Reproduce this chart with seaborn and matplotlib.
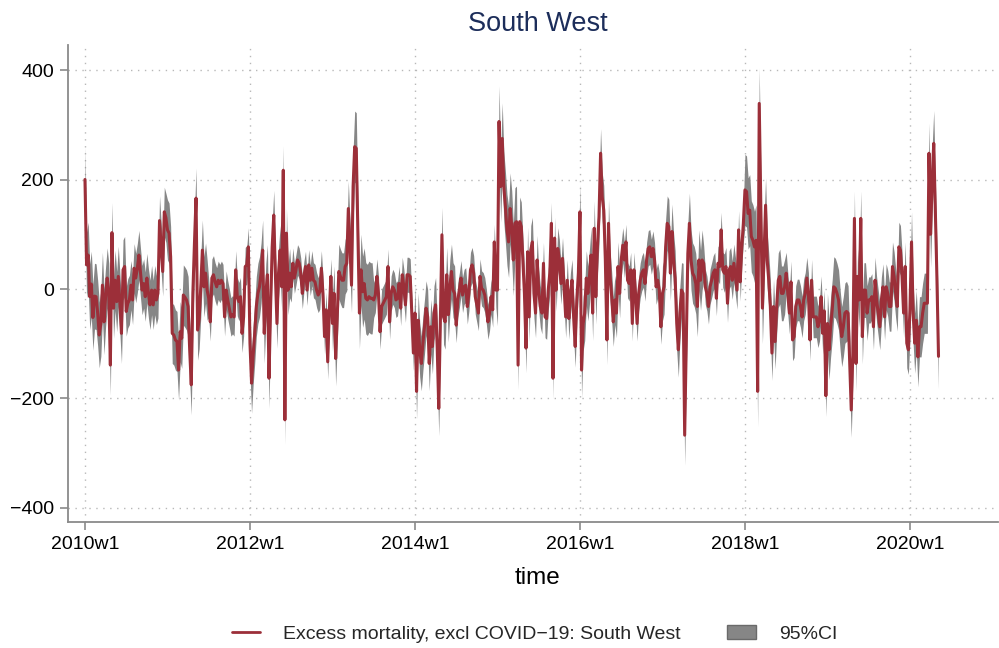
import numpy as np
import pandas as pd
import matplotlib
matplotlib.use("Agg")
import matplotlib.pyplot as plt
import seaborn as sns
from matplotlib.patches import Patch
from matplotlib.lines import Line2D

# ---- data (weekly excess mortality) ----
y2010 = [200, 44, 62, -14, 9, -52, -13, -14, -44, -84, -63, 7, -60, -14, 20, -8,
         -139, 103, -35, 16, -23, 23, -26, -81, 35, 41, -41, -26, -20, 7, -20, 38,
         20, 38, 62, 29, -2, 10, -14, 20, -8, -29, -2, -29, -2, -20, -8, 125, 77, 32,
         141, 130]
y2011 = [108, 102, 59, -81, -84, -93, -96, -148, -78, -90, -11, -15, -20, -32, -111,
         -175, -8, 83, 166, -75, -54, 4, 71, 4, 29, -2, -17, -60, 20, 26, 13, 4, 16,
         10, 16, 10, -51, -2, -20, -35, -51, -47, -51, 35, -14, -23, -14, -81, -51, 41,
         44, 77]
y2012 = [-99, -172, -120, -81, -32, -8, 4, 29, 71, -81, -8, 26, -163, -32, 77, 135,
         29, -63, 29, 71, 4, 217, -239, 102, -2, 29, 4, 47, 20, 35, 53, 47, 29, -8, 23,
         41, -2, 44, 16, 38, 16, 13, -2, -11, -5, 38, -8, -87, -38, -133, -41, 23]
y2013 = [-63, -8, -127, -51, 32, 23, 16, 16, 41, 47, 147, 77, 7, 187, 260, 257, 102,
         -44, 35, -5, 10, -17, -20, -14, -17, -17, -20, -11, 23, -8, -78, -32, -26,
         -20, -14, 41, -60, -8, 4, -2, -20, -17, 10, -35, 26, 4, -29, 26, 26, 23, -44,
         -117]
y2014 = [-44, -187, -57, -111, -136, -99, -69, -35, -51, -136, -69, -105, -44, -29,
         -105, -218, -57, 99, -51, -60, 26, -47, 4, 32, -2, -8, -66, -20, -2, 20, -11,
         4, 7, -32, -8, 35, 44, 29, -14, -29, -44, 23, 1, -2, -11, -32, -60, -44, -14,
         -38, 86, -2]
y2015 = [-2, 306, 187, 275, 187, 150, 108, 86, 147, 114, 53, 120, 123, -139, 123,
         114, 53, -8, -108, 68, -51, 71, 86, -8, -44, 53, -2, -32, -44, 47, -51, -54,
         -2, 29, 120, -163, 93, -2, 74, 53, 10, 56, 4, -51, 16, -54, -8, 16, -51, -105,
         -20, 29]
y2016 = [141, -148, -63, -44, 20, -8, 23, 62, -44, 111, -14, 77, 132, 248, 169, 144,
         53, -93, 120, 23, -14, -60, -20, -44, 41, -8, 53, 80, 53, 86, 16, 10, 35, -63,
         35, -8, -63, -8, 16, 29, 35, 10, 53, 74, 77, 59, 74, 53, 4, 16, -2, -69]
y2017 = [-8, 4, 77, 120, 114, 29, 105, 53, 20, -63, -111, -44, -2, -8, -267, -105,
         65, 120, 53, 29, 23, 10, -32, 53, 16, 53, 47, 4, -8, -32, 4, 16, 29, 35, -17,
         47, 41, 108, 35, 29, 41, -26, 35, 41, 16, 47, 23, -2, 108, 13, 77, 120]
y2018 = [181, 178, 138, 144, 96, 89, 77, 89, -187, 339, 150, -35, 60, 153, 53, 16,
         -32, -117, -32, -96, -32, 16, 23, -8, -8, 4, 29, -8, -44, 13, -93, -87, -32,
         -20, -20, -32, -51, -20, -8, 20, -8, -93, 16, -51, -51, -51, -69, -57, -14,
         -81, -40, -195]
y2019 = [-63, -111, -69, -38, 4, 1, -8, -20, -57, -87, -69, -44, -41, -44, -130,
         -221, -117, 129, -136, 23, -20, 129, -87, -2, -2, -44, -20, -20, -14, -69, 16,
         -20, -44, -69, -20, 4, -51, 4, -8, -32, -32, 41, 23, -8, -32, 77, 71, 23, -44,
         41, -99, -111]
y2020 = [-38, 86, -44, -99, -57, -124, -69, -69, -44, -26, -26, -26, 248, 100, 200,
         266, 140, 20, -123]

# 95% CI half-width, read per quarter (13 weeks)
ci_half_quarter = [60, 55, 45, 45,
                   55, 55, 35, 35,
                   55, 45, 28, 32,
                   50, 65, 32, 32,
                   50, 50, 32, 32,
                   65, 45, 38, 38,
                   50, 45, 32, 32,
                   50, 55, 32, 35,
                   65, 50, 38, 38,
                   55, 50, 42, 45,
                   55, 60]

tick_years = [2010, 2012, 2014, 2016, 2018, 2020]
tick_labels = [f"{y}w1" for y in tick_years]
y_ticks = [-400, -200, 0, 200, 400]

# ---- build table ----
excess = np.array(y2010 + y2011 + y2012 + y2013 + y2014 + y2015 + y2016 +
                  y2017 + y2018 + y2019 + y2020, dtype=float)
n = len(excess)
half = np.repeat(ci_half_quarter, 13)[:n].astype(float)
df = pd.DataFrame({"week": np.arange(n), "excess": excess,
                   "lower": excess - half, "upper": excess + half})

# ---- style ----
sns.set_style("white")
plt.rcParams["font.family"] = ["Liberation Sans", "DejaVu Sans"]

RED = "#9c2f39"
GREY = "#868686"
AXC = "#8a8a8a"

fig = plt.figure(figsize=(9.99, 6.48), dpi=100)
ax = fig.add_axes([68 / 999, 126 / 648, 930 / 999, 477 / 648])

ax.fill_between(df["week"], df["lower"], df["upper"], color=GREY, lw=0, zorder=1)
sns.lineplot(data=df, x="week", y="excess", color=RED, lw=2.2, ax=ax,
             legend=False, zorder=3)

ax.set_xlim(-10.7, 575.5)
ax.set_ylim(-425.6, 445.7)
ax.set_xticks([(y - 2010) * 52 for y in tick_years])
ax.set_xticklabels(tick_labels)
ax.set_yticks(y_ticks)
ax.set_xlabel("")
ax.set_ylabel("")

for s in ["top", "right"]:
    ax.spines[s].set_visible(False)
for s in ["left", "bottom"]:
    ax.spines[s].set_color(AXC)
    ax.spines[s].set_linewidth(1.3)

ax.tick_params(axis="both", which="major", direction="out", length=6, width=1.2,
               color=AXC, labelsize=14, labelcolor="black", pad=4)
ax.tick_params(axis="x", bottom=True)
ax.tick_params(axis="y", left=True)

ax.grid(True, which="major", axis="both", color="#b8b8b8",
        linestyle=(0, (1, 4)), linewidth=1.0)
ax.set_axisbelow(True)

fig.text(0.538, 1 - 24 / 648, "South West", ha="center", va="center",
         fontsize=19.5, color="#1c2d5a")
fig.text(0.538, 1 - 578 / 648, "time", ha="center", va="center",
         fontsize=17.5, color="black")

handles = [Line2D([0], [0], color=RED, lw=2.0),
           Patch(facecolor=GREY, edgecolor="#6a6a6a", linewidth=1.0)]
labels = ["Excess mortality, excl COVID\u221219: South West", "95%CI"]
fig.legend(handles, labels, loc="center", bbox_to_anchor=(0.535, 1 - 634 / 648),
           ncol=2, frameon=False, fontsize=14, handlelength=1.45,
           handletextpad=1.2, columnspacing=2.4)

fig.savefig("out.png", dpi=100)
